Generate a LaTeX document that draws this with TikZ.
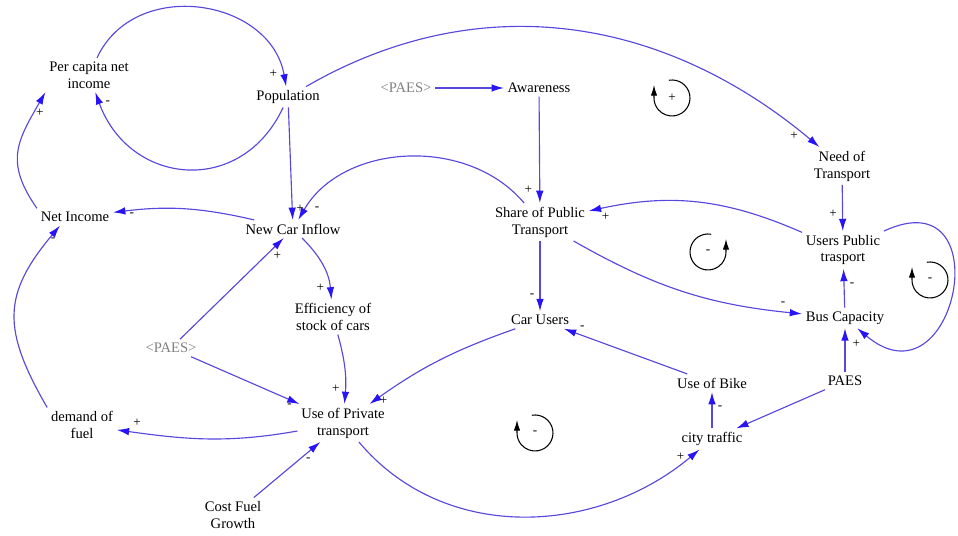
\documentclass[tikz,border=0pt]{standalone}
\usepackage{fontspec}
\setmainfont{Liberation Serif}
\usetikzlibrary{arrows.meta}

\definecolor{linkcol}{RGB}{88,72,222}
\definecolor{headcol}{RGB}{40,20,245}
\definecolor{shadowgray}{RGB}{128,128,128}

\begin{document}
\begin{tikzpicture}[x=0.02cm, y=0.02cm,
    var/.style={align=center, inner sep=2pt, font=\fontsize{8.3}{9.6}\selectfont},
    shadow/.style={var, text=shadowgray},
    sgn/.style={inner sep=1pt, font=\fontsize{7.5}{8}\selectfont},
    link/.style={draw=linkcol, line width=0.65pt,
                 -{Latex[length=7pt,width=4.3pt,color=headcol]}},
    loopmark/.style={draw=black, line width=0.6pt,
                 -{Latex[length=6pt,width=3.6pt]}}]
  \useasboundingbox (0,0) rectangle (958,536);

  % variables
  \node[var] (pcni) at (89,461) {Per capita net\\income};
  \node[var] (pop) at (288,439) {Population};
  \node[shadow] (paesA) at (406,448) {\textless PAES\textgreater};
  \node[var] (aware) at (539,448) {Awareness};
  \node[var] (need) at (842,370) {Need of\\Transport};
  \node[var] (netinc) at (75,319) {Net Income};
  \node[var] (ncar) at (293,307) {New Car Inflow};
  \node[var] (share) at (540,314) {Share of Public\\Transport};
  \node[var] (users) at (843,286) {Users Public\\trasport};
  \node[var] (eff) at (333,219) {Efficiency of\\stock of cars};
  \node[shadow] (paesB) at (171,188) {\textless PAES\textgreater};
  \node[var] (carusers) at (540,216) {Car Users};
  \node[var] (bus) at (845,218) {Bus Capacity};
  \node[var] (bike) at (712,153) {Use of Bike};
  \node[var] (paes) at (845,155) {PAES};
  \node[var] (fuel) at (82,111) {demand of\\fuel};
  \node[var] (upriv) at (343,113) {Use of Private\\transport};
  \node[var] (traffic) at (712,97) {city traffic};
  \node[var] (cost) at (233,21) {Cost Fuel\\Growth};

  % causal links
  \path[link]
    (pcni) edge[out=65,in=100,looseness=1.2] node[sgn,pos=0.95,left=2pt] {+} (pop)
    (pop) edge[out=-115,in=-70,looseness=1.35] node[sgn,pos=0.96,right=2pt] {-} (pcni)
    (pop) edge[out=30,in=140] node[sgn,pos=0.97,left=3pt] {+} (need)
    (paesA) edge (aware)
    (aware) edge node[sgn,pos=0.88,left=3pt] {+} (share)
    (pop) edge node[sgn,pos=0.9,right=1pt] {+} (ncar)
    (share) edge[out=130,in=60] node[sgn,pos=0.95,right=4pt] {-} (ncar)
    (ncar) edge[bend right=10] node[sgn,pos=0.88,below] {-} (netinc)
    (paesB) edge node[sgn,pos=0.88,below right] {+} (ncar)
    (ncar) edge[out=-45,in=95] node[sgn,pos=0.85,left=2pt] {+} (eff)
    (eff) edge[bend left=10] node[sgn,pos=0.8,left=2pt] {+} (upriv)
    (paesB) edge node[sgn,pos=0.95,below left] {-} (upriv)
    (carusers) edge[bend right=8] node[sgn,pos=0.97,right=2pt] {+} (upriv)
    (upriv) edge[out=190,in=-8] node[sgn,pos=0.9,above=2pt] {+} (fuel)
    (cost) edge node[sgn,pos=0.75,below right] {-} (upriv)
    (upriv) edge[out=-50,in=-140] node[sgn,pos=0.97,left=2pt] {+} (traffic)
    (share) edge node[sgn,pos=0.78,left=2pt] {-} (carusers)
    (share) edge[bend right=12] node[sgn,pos=0.93,above=2pt] {-} (bus)
    (users) edge[bend right=18] node[sgn,pos=0.93,below=2pt] {+} (share)
    (need) edge node[sgn,pos=0.62,left=2pt] {+} (users)
    (bus) edge node[sgn,pos=0.6,right=2pt] {-} (users)
    (paes) edge node[sgn,pos=0.65,right=3pt] {+} (bus)
    (paes) edge (traffic)
    (traffic) edge node[sgn,pos=0.56,right=2pt] {-} (bike)
    (bike) edge node[sgn,pos=0.85,above=2pt] {-} (carusers);
  \draw[link] (netinc.north west) .. controls +(125:1.13cm) and +(-120:1.13cm) .. (pcni.south west)
    node[sgn,pos=0.85,right] {+};
  \draw[link] (fuel.north west) .. controls +(120:1.8cm) and +(-130:1.8cm) .. (netinc.-150)
    node[sgn,pos=0.93,right] {-};
  \draw[link] (users.north east) .. controls +(25:2.6cm) and +(-40:2.6cm) .. (bus.-40);

  % loop markers
  \node[sgn] (lp1) at (672,438) {+};
  \node[sgn] (lp2) at (708,284) {-};
  \node[sgn] (lp3) at (930,256) {-};
  \node[sgn] (lp4) at (535,103) {-};
  \draw[loopmark] (lp1.center) ++(100:0.36cm) arc[start angle=100, end angle=-180, radius=0.36cm] -- ++(0,0.26cm);
  \draw[loopmark] (lp2.center) ++(80:0.36cm) arc[start angle=80, end angle=360, radius=0.36cm] -- ++(0,0.26cm);
  \draw[loopmark] (lp3.center) ++(100:0.36cm) arc[start angle=100, end angle=-180, radius=0.36cm] -- ++(0,0.26cm);
  \draw[loopmark] (lp4.center) ++(100:0.36cm) arc[start angle=100, end angle=-180, radius=0.36cm] -- ++(0,0.26cm);
\end{tikzpicture}
\end{document}
